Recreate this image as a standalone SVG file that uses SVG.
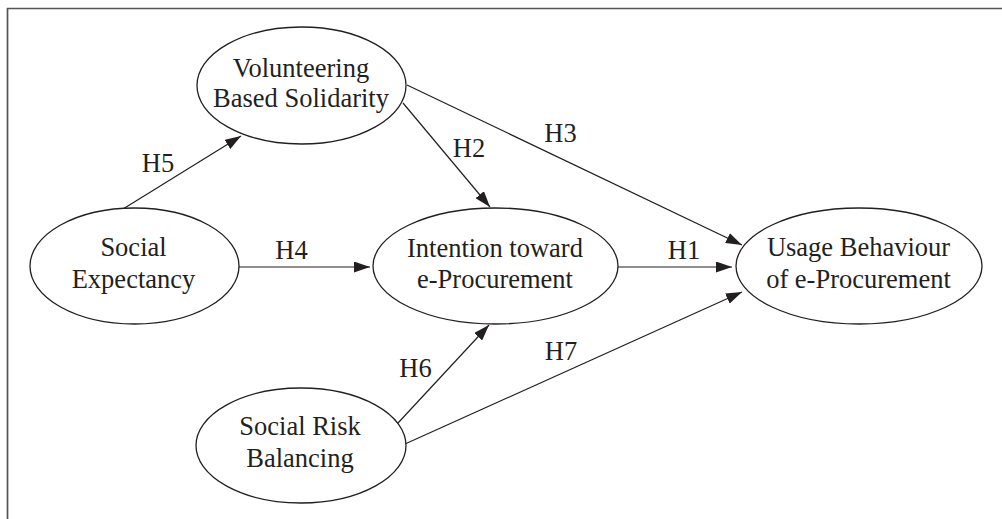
<svg xmlns="http://www.w3.org/2000/svg" width="1002" height="519" viewBox="0 0 1002 519">
  <style>
    .frame { fill: none; stroke: #555555; stroke-width: 1.7; }
    .node ellipse { fill: #ffffff; stroke: #231f20; stroke-width: 1.3; }
    .node text, .label { font-family: "Liberation Serif", "Times New Roman", serif; font-size: 26.5px; fill: #231f20; text-anchor: middle; }
    .edge { fill: none; stroke: #231f20; stroke-width: 1.2; marker-end: url(#arrow); }
  </style>
  <defs>
    <marker id="arrow" markerUnits="userSpaceOnUse" markerWidth="16" markerHeight="11" refX="16" refY="5.5" orient="auto">
      <path d="M0,0 L16,5.5 L0,11 Z" fill="#231f20"/>
    </marker>
  </defs>

  <rect width="1002" height="519" fill="#ffffff"/>
  <!-- open frame: top and left edges only -->
  <path class="frame" d="M7.5,519 L7.5,8.5 L1002,8.5"/>

  <g id="connectors">
    <line id="h5" class="edge" x1="123" y1="209" x2="241" y2="136"/>
    <line id="h4" class="edge" x1="239" y1="267" x2="370" y2="267"/>
    <line id="h2" class="edge" x1="403" y1="103" x2="490" y2="207"/>
    <line id="h3" class="edge" x1="407" y1="85" x2="742" y2="245"/>
    <line id="h1" class="edge" x1="618" y1="267" x2="732" y2="267"/>
    <line id="h6" class="edge" x1="398" y1="423" x2="489" y2="325"/>
    <line id="h7" class="edge" x1="405" y1="444" x2="742" y2="292"/>

    <text class="label" x="158" y="171.5">H5</text>
    <text class="label" x="291.5" y="259">H4</text>
    <text class="label" x="469" y="156.5">H2</text>
    <text class="label" x="560.5" y="141.5">H3</text>
    <text class="label" x="684" y="259">H1</text>
    <text class="label" x="415.5" y="377">H6</text>
    <text class="label" x="561" y="360">H7</text>
  </g>

  <g id="volunteering" class="node">
    <ellipse cx="301.5" cy="85.5" rx="104.5" ry="58.5"/>
    <text x="301" y="76.5">Volunteering</text>
    <text x="301" y="106.5">Based Solidarity</text>
  </g>

  <g id="social-expectancy" class="node">
    <ellipse cx="134.5" cy="266" rx="104.5" ry="58"/>
    <text x="133.5" y="256">Social</text>
    <text x="133.5" y="287.5">Expectancy</text>
  </g>

  <g id="intention" class="node">
    <ellipse cx="495.5" cy="266" rx="122.5" ry="58"/>
    <text x="495" y="256.5">Intention toward</text>
    <text x="495" y="288">e-Procurement</text>
  </g>

  <g id="usage" class="node">
    <ellipse cx="859" cy="266" rx="123" ry="58"/>
    <text x="858.5" y="256">Usage Behaviour</text>
    <text x="858.5" y="287.5">of e-Procurement</text>
  </g>

  <g id="social-risk" class="node">
    <ellipse cx="301" cy="445.5" rx="105" ry="57.5"/>
    <text x="300" y="435">Social Risk</text>
    <text x="300" y="466.5">Balancing</text>
  </g>
</svg>
